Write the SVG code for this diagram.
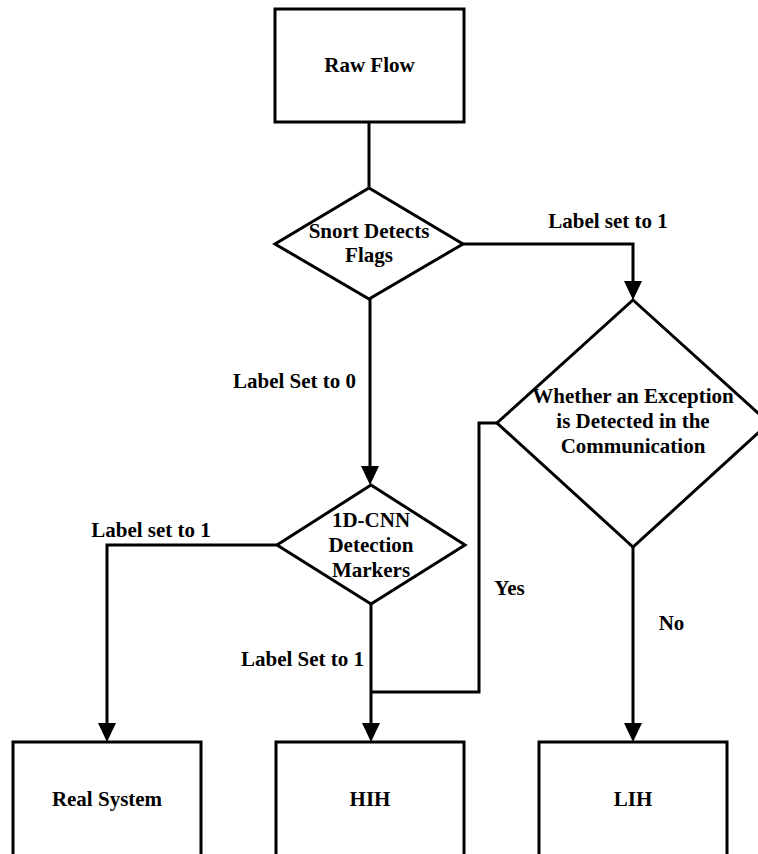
<svg xmlns="http://www.w3.org/2000/svg" width="758" height="854" viewBox="0 0 758 854">
<style>
.shape{fill:#fff;stroke:#000;stroke-width:3}
.line{fill:none;stroke:#000;stroke-width:3}
text{font-family:"Liberation Serif","Times New Roman",serif;font-weight:bold;font-size:21px;fill:#000;text-anchor:middle}
</style>
<defs>
<marker id="arr" markerUnits="userSpaceOnUse" markerWidth="20" markerHeight="18" viewBox="0 0 20 18" refX="9" refY="9" orient="auto">
<path d="M0,0 L19,9 L0,18 z" fill="#000"/>
</marker>
</defs>
<rect width="758" height="854" fill="#fff"/>
<g id="connectors">
<path class="line" d="M369,122 V188"/>
<path class="line" d="M370,299 V475" marker-end="url(#arr)"/>
<path class="line" d="M463,244 H633 V290" marker-end="url(#arr)"/>
<path class="line" d="M277,545 H107 V732" marker-end="url(#arr)"/>
<path class="line" d="M371,604 V732" marker-end="url(#arr)"/>
<path class="line" d="M497,423 H479 V692 H371"/>
<path class="line" d="M633,547 V732" marker-end="url(#arr)"/>
</g>
<g id="raw-flow">
<rect class="shape" x="275" y="9" width="189" height="113"/>
<text x="369.5" y="72">Raw Flow</text>
</g>
<g id="snort">
<polygon class="shape" points="369,188 463,244 369,299 275,244"/>
<text x="369" y="238">Snort Detects</text>
<text x="369" y="262">Flags</text>
</g>
<g id="cnn">
<polygon class="shape" points="371,485 465,545 371,604 277,545"/>
<text x="371" y="527">1D-CNN</text>
<text x="371" y="552">Detection</text>
<text x="371" y="577">Markers</text>
</g>
<g id="exception">
<polygon class="shape" points="633,300 769,423 633,547 497,423"/>
<text x="633" y="403">Whether an Exception</text>
<text x="633" y="428">is Detected in the</text>
<text x="633" y="453">Communication</text>
</g>
<g id="real-system">
<rect class="shape" x="13" y="742" width="188" height="115"/>
<text x="107" y="806">Real System</text>
</g>
<g id="hih">
<rect class="shape" x="276" y="742" width="188" height="115"/>
<text x="370" y="806">HIH</text>
</g>
<g id="lih">
<rect class="shape" x="539" y="742" width="188" height="115"/>
<text x="633" y="806">LIH</text>
</g>
<g id="labels">
<text x="608" y="228">Label set to 1</text>
<text x="294.5" y="388">Label Set to 0</text>
<text x="151" y="537">Label set to 1</text>
<text x="302.5" y="666">Label Set to 1</text>
<text x="509.5" y="595">Yes</text>
<text x="671.5" y="630">No</text>
</g>
</svg>
